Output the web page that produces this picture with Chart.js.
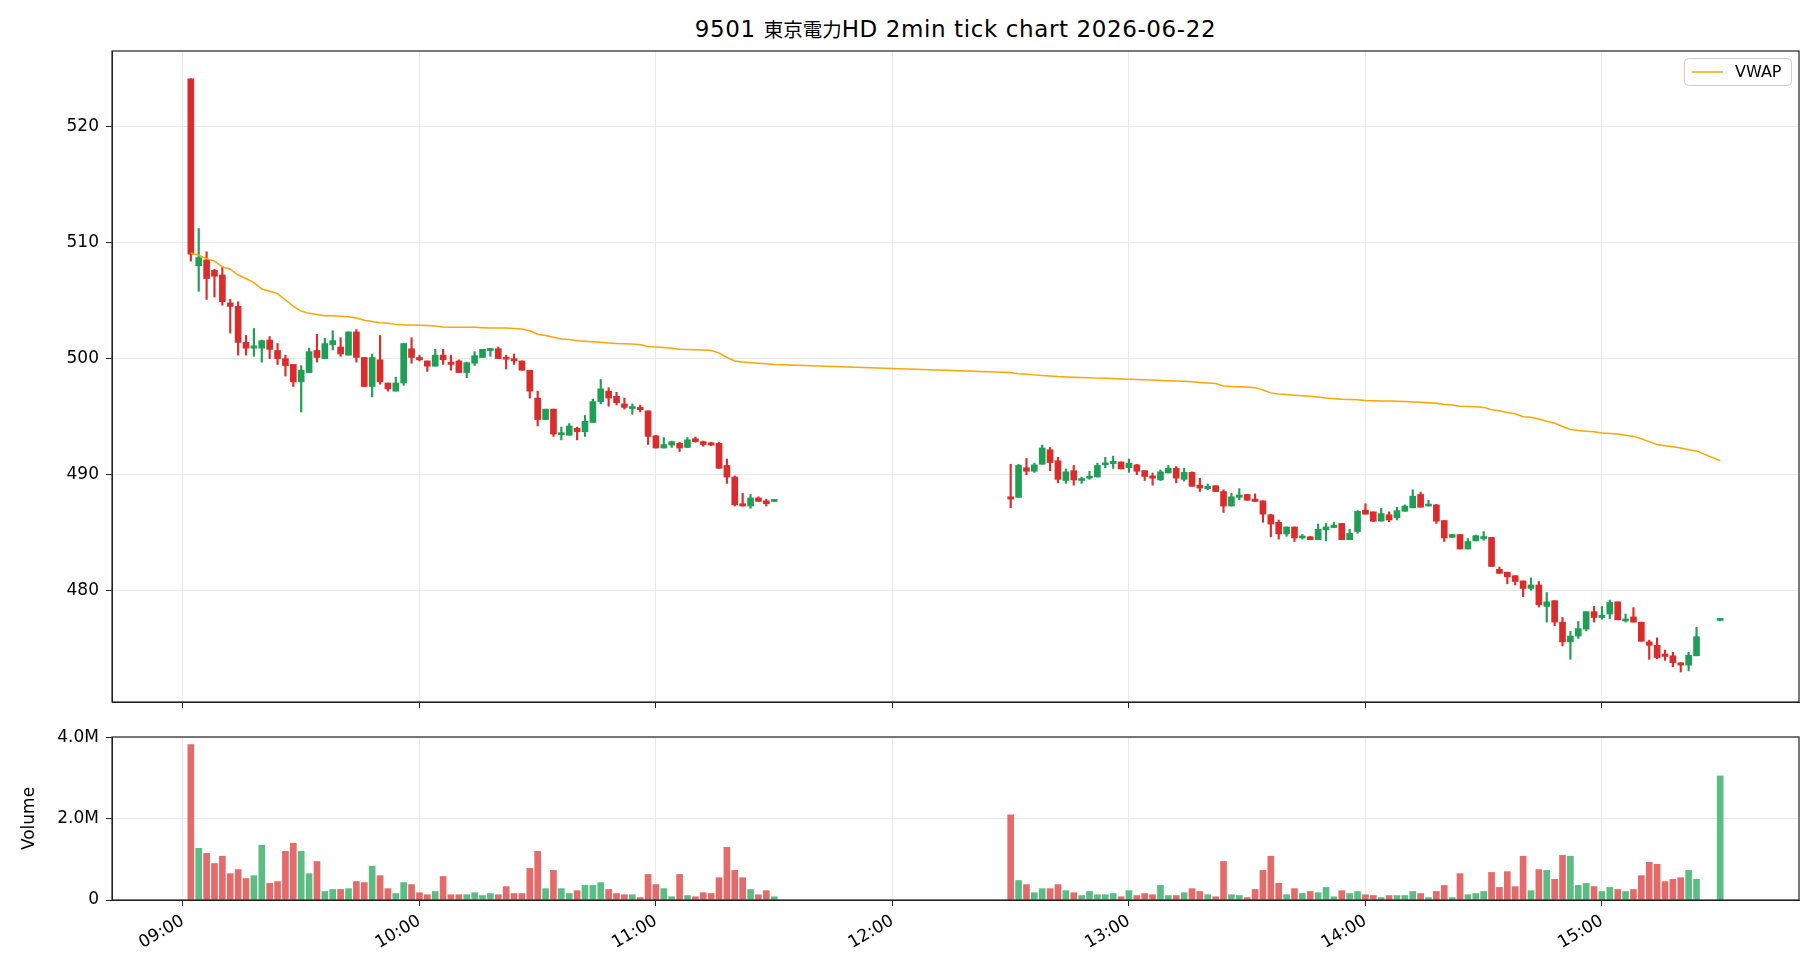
<!DOCTYPE html>
<html>
<head>
<meta charset="utf-8">
<title>9501 東京電力HD 2min tick chart</title>
<script src="https://cdn.jsdelivr.net/npm/chart.js@4.4.1/dist/chart.umd.min.js"></script>
<style>
    html, body { margin: 0; padding: 0; background: #ffffff; }
    #wrap { position: relative; width: 1820px; height: 980px; font-family: "DejaVu Sans", "Noto Sans CJK JP", sans-serif; }
    #title { position: absolute; left: 112px; width: 1687px; top: 15px; line-height: 28px; text-align: center; font-size: 23px; letter-spacing: 0.6px; color: #000; }
    #title .jp { font-size: 19.5px; letter-spacing: 0; }
    #price { position: absolute; left: 0; top: 40px; }
    #volume { position: absolute; left: 0; top: 725px; }
</style>
</head>
<body>
<div id="wrap">
    <div id="title">9501 <span class="jp">東京電力</span>HD 2min tick chart 2026-06-22</div>
    <canvas id="price" width="1820" height="672"></canvas>
    <canvas id="volume" width="1820" height="255"></canvas>
</div>
<script>
// 2-minute bars
const times = [
    '09:02','09:04','09:06','09:08','09:10','09:12','09:14','09:16','09:18','09:20',
    '09:22','09:24','09:26','09:28','09:30','09:32','09:34','09:36','09:38','09:40',
    '09:42','09:44','09:46','09:48','09:50','09:52','09:54','09:56','09:58','10:00',
    '10:02','10:04','10:06','10:08','10:10','10:12','10:14','10:16','10:18','10:20',
    '10:22','10:24','10:26','10:28','10:30','10:32','10:34','10:36','10:38','10:40',
    '10:42','10:44','10:46','10:48','10:50','10:52','10:54','10:56','10:58','11:00',
    '11:02','11:04','11:06','11:08','11:10','11:12','11:14','11:16','11:18','11:20',
    '11:22','11:24','11:26','11:28','11:30',
    '12:30','12:32','12:34','12:36','12:38','12:40','12:42','12:44','12:46','12:48',
    '12:50','12:52','12:54','12:56','12:58','13:00','13:02','13:04','13:06','13:08',
    '13:10','13:12','13:14','13:16','13:18','13:20','13:22','13:24','13:26','13:28',
    '13:30','13:32','13:34','13:36','13:38','13:40','13:42','13:44','13:46','13:48',
    '13:50','13:52','13:54','13:56','13:58','14:00','14:02','14:04','14:06','14:08',
    '14:10','14:12','14:14','14:16','14:18','14:20','14:22','14:24','14:26','14:28',
    '14:30','14:32','14:34','14:36','14:38','14:40','14:42','14:44','14:46','14:48',
    '14:50','14:52','14:54','14:56','14:58','15:00','15:02','15:04','15:06','15:08',
    '15:10','15:12','15:14','15:16','15:18','15:20','15:22','15:24',
    '15:30',
];

const opens = [
    524.1, 508.0, 508.5, 507.6, 507.2, 504.8, 504.5, 501.4, 500.9, 500.9,
    501.6, 500.7, 500.0, 499.5, 498.0, 498.8, 500.7, 500.0, 501.2, 501.0,
    500.3, 502.3, 500.1, 497.6, 499.9, 497.9, 497.2, 497.9, 500.85, 500.1,
    499.8, 499.35, 500.3, 499.7, 499.8, 498.8, 499.6, 500.1, 500.7, 500.85,
    500.1, 500.0, 499.8, 499.0, 496.6, 494.75, 495.65, 493.45, 493.4, 494.0,
    493.7, 494.5, 496.3, 497.2, 496.75, 496.1, 495.7, 495.8, 495.5, 493.35,
    492.3, 492.55, 492.7, 492.35, 493.1, 492.85, 492.75, 492.7, 490.8, 489.8,
    487.5, 487.3, 488.0, 487.75, 487.7,
    488.1, 488.05, 490.6, 490.3, 490.9, 492.15, 491.2, 489.5, 490.35, 489.5,
    489.7, 489.8, 490.85, 490.95, 491.1, 490.6, 490.85, 490.35, 489.9, 489.55,
    490.15, 490.55, 489.6, 490.2, 489.1, 488.8, 489.05, 488.55, 487.3, 488.05,
    488.3, 487.9, 487.75, 486.55, 485.9, 484.9, 485.5, 484.55, 484.65, 484.4,
    485.25, 485.45, 485.8, 484.4, 485.1, 486.95, 486.8, 486.0, 486.55, 486.3,
    486.85, 487.15, 488.3, 487.3, 487.4, 486.05, 484.6, 484.85, 483.6, 484.3,
    484.5, 484.6, 481.85, 481.6, 481.3, 480.85, 480.2, 480.5, 478.65, 479.15,
    477.3, 475.6, 476.1, 476.7, 478.2, 477.7, 478.0, 479.05, 477.4, 477.75,
    477.3, 475.6, 475.3, 474.55, 474.4, 473.8, 473.6, 474.4,
    477.45,
];

const highs = [
    524.1, 511.2, 509.2, 507.7, 507.9, 505.1, 504.9, 502.0, 502.6, 501.6,
    501.9, 501.3, 500.3, 499.5, 499.4, 500.9, 502.1, 501.75, 502.4, 501.8,
    502.3, 502.5, 500.1, 500.4, 502.0, 497.9, 498.4, 501.3, 501.8, 500.3,
    499.8, 500.8, 500.8, 500.3, 499.9, 499.7, 500.6, 500.8, 500.9, 501.0,
    500.3, 500.4, 499.8, 499.0, 497.2, 495.65, 495.65, 494.1, 494.4, 494.1,
    495.1, 496.5, 498.2, 497.5, 497.1, 496.6, 496.1, 496.0, 495.5, 493.4,
    493.2, 492.9, 492.8, 493.2, 493.25, 492.9, 492.8, 492.8, 491.35, 489.9,
    488.4, 488.3, 488.1, 487.9, 487.75,
    490.9, 490.9, 491.4, 491.0, 492.55, 492.35, 491.5, 490.5, 490.8, 489.8,
    490.3, 491.0, 491.5, 491.6, 491.1, 491.35, 490.9, 490.35, 490.15, 490.4,
    490.8, 490.7, 490.55, 490.25, 489.7, 489.2, 489.05, 488.7, 488.4, 488.8,
    488.3, 488.35, 487.75, 486.6, 486.1, 485.5, 485.5, 484.85, 484.7, 485.75,
    485.8, 485.9, 485.8, 485.3, 486.9, 487.5, 486.8, 487.1, 486.8, 487.2,
    487.4, 488.7, 488.5, 487.8, 487.45, 486.05, 484.85, 484.85, 484.5, 484.8,
    485.1, 484.6, 482.05, 481.6, 481.3, 480.85, 481.1, 480.8, 479.85, 479.15,
    477.7, 476.5, 477.35, 478.2, 478.65, 478.65, 479.2, 479.05, 478.0, 478.55,
    477.3, 475.75, 475.95, 474.9, 474.7, 473.8, 474.7, 476.85,
    477.5,
];

const lows = [
    508.4, 505.8, 505.1, 505.3, 504.6, 502.2, 500.3, 500.3, 500.2, 499.7,
    500.0, 499.5, 498.5, 497.6, 495.4, 498.8, 499.7, 500.0, 500.75, 500.2,
    500.3, 499.7, 497.6, 496.7, 497.8, 497.2, 497.2, 497.7, 499.6, 499.8,
    498.9, 499.35, 499.5, 499.0, 498.8, 498.35, 499.4, 500.1, 500.2, 500.0,
    499.1, 499.5, 499.0, 496.6, 494.2, 494.75, 493.3, 493.0, 493.4, 493.0,
    493.3, 494.5, 496.1, 495.9, 496.0, 495.65, 495.2, 495.4, 492.6, 492.3,
    492.3, 492.35, 492.0, 492.35, 492.8, 492.45, 492.5, 490.55, 489.25, 487.3,
    487.3, 487.1, 487.7, 487.3, 487.7,
    487.15, 488.05, 490.0, 490.2, 490.9, 490.35, 489.3, 489.25, 489.1, 489.25,
    489.6, 489.8, 490.6, 490.55, 490.5, 490.2, 490.0, 489.5, 489.1, 489.5,
    490.15, 489.3, 489.45, 489.0, 488.55, 488.7, 488.55, 486.75, 487.3, 487.85,
    487.8, 487.7, 485.9, 484.65, 484.45, 484.7, 484.25, 484.45, 484.4, 484.4,
    484.3, 485.45, 484.4, 484.4, 484.95, 486.6, 485.95, 486.0, 485.95, 486.1,
    486.85, 487.15, 487.2, 487.3, 485.8, 484.25, 484.6, 483.6, 483.6, 484.3,
    484.35, 482.1, 481.5, 480.6, 480.5, 479.5, 480.05, 478.6, 477.3, 477.0,
    475.25, 474.1, 475.9, 476.55, 477.3, 477.55, 477.6, 477.5, 477.3, 477.3,
    475.65, 474.1, 474.15, 474.0, 473.45, 473.0, 473.1, 474.4,
    477.45,
];

const closes = [
    509.0, 508.7, 506.9, 507.1, 504.9, 504.5, 501.4, 500.9, 501.1, 501.55,
    500.8, 500.0, 499.4, 498.0, 499.0, 500.6, 500.1, 501.3, 501.55, 500.4,
    502.3, 500.1, 497.6, 500.1, 498.0, 497.4, 497.9, 501.3, 500.1, 499.9,
    499.35, 500.3, 499.9, 499.5, 498.8, 499.65, 500.25, 500.8, 500.85, 500.0,
    499.95, 499.8, 499.0, 497.2, 494.75, 495.65, 493.5, 493.55, 494.2, 493.7,
    494.6, 496.3, 497.4, 496.6, 496.2, 495.8, 495.8, 495.6, 493.3, 492.3,
    492.6, 492.85, 492.3, 493.0, 492.85, 492.6, 492.55, 490.55, 489.8, 487.4,
    487.3, 488.0, 487.7, 487.5, 487.75,
    487.9, 490.8, 490.3, 490.85, 492.3, 491.05, 489.6, 490.25, 489.55, 489.6,
    489.85, 490.8, 491.0, 491.15, 490.5, 491.0, 490.3, 489.85, 489.7, 490.25,
    490.55, 489.7, 490.2, 489.0, 488.85, 489.0, 488.55, 487.3, 488.1, 488.25,
    487.8, 487.7, 486.6, 485.75, 484.9, 485.5, 484.55, 484.7, 484.4, 485.3,
    485.5, 485.65, 484.4, 484.95, 486.85, 486.6, 486.0, 486.65, 486.1, 486.9,
    487.3, 488.15, 487.2, 487.45, 486.0, 484.55, 484.85, 483.6, 484.25, 484.75,
    484.65, 482.1, 481.5, 481.2, 480.8, 480.2, 480.5, 478.8, 479.05, 477.3,
    475.6, 476.1, 476.75, 478.2, 477.7, 477.9, 479.0, 477.5, 477.55, 477.3,
    475.65, 475.3, 474.25, 474.35, 473.8, 473.6, 474.45, 476.05,
    477.5,
];

// volume in millions of shares
const volumeMillions = [
    3.83, 1.275, 1.15, 0.90, 1.08, 0.65, 0.75, 0.53, 0.60, 1.35,
    0.41, 0.455, 1.20, 1.40, 1.20, 0.65, 0.95, 0.21, 0.26, 0.26,
    0.28, 0.455, 0.43, 0.83, 0.60, 0.28, 0.16, 0.43, 0.38, 0.18,
    0.13, 0.21, 0.58, 0.13, 0.13, 0.13, 0.18, 0.11, 0.16, 0.13,
    0.33, 0.16, 0.16, 0.78, 1.20, 0.28, 0.73, 0.28, 0.16, 0.23,
    0.36, 0.36, 0.43, 0.26, 0.16, 0.13, 0.13, 0.06, 0.63, 0.38,
    0.28, 0.08, 0.63, 0.11, 0.08, 0.18, 0.16, 0.55, 1.30, 0.73,
    0.55, 0.26, 0.13, 0.23, 0.08,
    2.10, 0.48, 0.38, 0.18, 0.28, 0.28, 0.38, 0.23, 0.18, 0.11,
    0.21, 0.13, 0.13, 0.16, 0.08, 0.23, 0.11, 0.16, 0.13, 0.36,
    0.11, 0.11, 0.18, 0.28, 0.21, 0.13, 0.08, 0.95, 0.13, 0.11,
    0.06, 0.26, 0.73, 1.08, 0.41, 0.13, 0.28, 0.16, 0.21, 0.18,
    0.31, 0.08, 0.23, 0.16, 0.21, 0.13, 0.11, 0.06, 0.11, 0.11,
    0.11, 0.21, 0.16, 0.06, 0.21, 0.36, 0.06, 0.65, 0.13, 0.16,
    0.21, 0.68, 0.31, 0.70, 0.33, 1.08, 0.23, 0.75, 0.73, 0.51,
    1.10, 1.08, 0.36, 0.41, 0.33, 0.21, 0.31, 0.26, 0.21, 0.26,
    0.60, 0.93, 0.88, 0.455, 0.51, 0.55, 0.73, 0.51,
    3.06,
];

const vwap = [
    509.1, 508.9, 508.6, 508.4, 507.9, 507.7, 507.2, 506.9, 506.55, 506.0,
    505.8, 505.6, 505.05, 504.5, 504.1, 503.9, 503.8, 503.7, 503.7, 503.65,
    503.6, 503.5, 503.3, 503.2, 503.1, 503.05, 502.95, 502.9, 502.9, 502.87,
    502.85, 502.8, 502.73, 502.7, 502.7, 502.7, 502.7, 502.67, 502.64, 502.64,
    502.64, 502.6, 502.56, 502.4, 502.1, 502.0, 501.85, 501.7, 501.65, 501.55,
    501.5, 501.45, 501.4, 501.35, 501.3, 501.28, 501.25, 501.2, 501.05, 501.0,
    500.95, 500.9, 500.8, 500.78, 500.76, 500.74, 500.7, 500.5, 500.1, 499.8,
    499.7, 499.65, 499.6, 499.55, 499.5,
    498.8, 498.7, 498.65, 498.6, 498.55, 498.5, 498.45, 498.42, 498.4, 498.38,
    498.35, 498.32, 498.3, 498.28, 498.25, 498.22, 498.2, 498.18, 498.15, 498.12,
    498.1, 498.08, 498.05, 498.0, 497.95, 497.9, 497.85, 497.65, 497.6, 497.58,
    497.55, 497.5, 497.3, 497.05, 496.95, 496.9, 496.85, 496.8, 496.75, 496.7,
    496.6, 496.55, 496.5, 496.47, 496.45, 496.4, 496.38, 496.36, 496.34, 496.32,
    496.3, 496.27, 496.24, 496.2, 496.15, 496.05, 496.0, 495.9, 495.88, 495.85,
    495.8, 495.6, 495.5, 495.35, 495.25, 495.0, 494.95, 494.8, 494.6, 494.45,
    494.15, 493.9, 493.8, 493.75, 493.7, 493.6, 493.55, 493.5, 493.4, 493.3,
    493.1, 492.85, 492.6, 492.5, 492.4, 492.3, 492.15, 492.05,
    491.2,
];

const hourLabels = ['09:00', '10:00', '11:00', '12:00', '13:00', '14:00', '15:00'];
const priceTicks = [480, 490, 500, 510, 520];
const volumeTicks = [0, 2, 4];

// Colours
const UP = '#1f9e55';
const DOWN = '#dc2b2b';
const UP_VOL = '#5bbd83';
const DOWN_VOL = '#e56a6a';
const GRID = '#e9e9e9';
const AXIS = '#222222';
const FONT = '"DejaVu Sans", "Noto Sans CJK JP", sans-serif';

Chart.defaults.font.family = FONT;
Chart.defaults.font.size = 17;
Chart.defaults.color = '#000000';

// minutes since 09:00
function toMinutes(t) {
    const [h, m] = t.split(':').map(Number);
    return h * 60 + m - 540;
}

const xs = times.map(toMinutes);
const rising = closes.map((c, i) => c >= opens[i]);
const hourValues = hourLabels.map(toMinutes);
const X_MIN = -18;
const X_MAX = 410;

// Keep the plot box exactly where the layout padding puts it
function noScalePadding(s) {
    s.paddingTop = 0;
    s.paddingBottom = 0;
    s.paddingLeft = 0;
    s.paddingRight = 0;
}

// Draws the top and right spines like a boxed axes
const frame = {
    id: 'frame',
    afterDraw(chart) {
        const { ctx, chartArea: a } = chart;
        ctx.save();
        ctx.strokeStyle = AXIS;
        ctx.lineWidth = 1.2;
        ctx.strokeRect(a.left, a.top, a.right - a.left, a.bottom - a.top);
        ctx.restore();
    },
};

// Small boxed legend in the upper right corner
const vwapLegend = {
    id: 'vwapLegend',
    afterDraw(chart) {
        const { ctx, chartArea: a } = chart;
        const w = 107, h = 27;
        const x = a.right - 8 - w;
        const y = a.top + 7;
        ctx.save();
        ctx.fillStyle = 'rgba(255,255,255,0.85)';
        ctx.strokeStyle = '#cccccc';
        ctx.lineWidth = 1;
        ctx.beginPath();
        ctx.roundRect(x + 0.5, y + 0.5, w, h, 4);
        ctx.fill();
        ctx.stroke();
        ctx.strokeStyle = '#ffa500';
        ctx.lineWidth = 1.5;
        ctx.beginPath();
        ctx.moveTo(x + 8, y + h / 2 + 0.5);
        ctx.lineTo(x + 39, y + h / 2 + 0.5);
        ctx.stroke();
        ctx.fillStyle = '#000';
        ctx.font = '16px ' + FONT;
        ctx.textBaseline = 'middle';
        ctx.fillText('VWAP', x + 51, y + h / 2 + 1);
        ctx.restore();
    },
};

function hourAxis(showLabels, height) {
    return {
        type: 'linear',
        min: X_MIN,
        max: X_MAX,
        offset: false,
        afterBuildTicks: s => { s.ticks = hourValues.map(v => ({ value: v })); },
        grid: { offset: false, color: GRID, tickColor: AXIS, tickLength: 6 },
        border: { color: AXIS, width: 1 },
        ticks: {
            display: showLabels,
            minRotation: 30,
            maxRotation: 30,
            padding: 5,
            callback: (v, i) => hourLabels[i],
        },
        afterFit: s => { s.height = height; noScalePadding(s); },
    };
}

new Chart(document.getElementById('price'), {
    type: 'bar',
    data: {
        datasets: [
            {
                type: 'line',
                label: 'VWAP',
                data: xs.map((x, i) => ({ x, y: vwap[i] })),
                borderColor: '#ffa500',
                borderWidth: 1.5,
                pointRadius: 0,
                tension: 0,
                order: 0,
            },
            {
                label: 'body',
                data: xs.map((x, i) => ({ x, y: [opens[i], closes[i]] })),
                backgroundColor: rising.map(r => (r ? UP : DOWN)),
                barThickness: 6,
                minBarLength: 2,
                grouped: false,
                order: 1,
            },
            {
                label: 'wick',
                data: xs.map((x, i) => ({ x, y: [lows[i], highs[i]] })),
                backgroundColor: rising.map(r => (r ? UP : DOWN)),
                barThickness: 1.5,
                minBarLength: 1,
                grouped: false,
                order: 2,
            },
        ],
    },
    options: {
        responsive: false,
        devicePixelRatio: 1,
        animation: false,
        layout: { padding: { top: 11, right: 21, left: 0, bottom: 0 } },
        plugins: { legend: { display: false }, tooltip: { enabled: false } },
        scales: {
            x: hourAxis(false, 10),
            y: {
                min: 470.42,
                max: 526.5,
                afterBuildTicks: s => { s.ticks = priceTicks.map(v => ({ value: v })); },
                grid: { color: GRID, tickColor: AXIS, tickLength: 6 },
                border: { color: AXIS, width: 1 },
                ticks: { padding: 7, callback: v => String(v) },
                afterFit: s => { s.width = 112; noScalePadding(s); },
            },
        },
    },
    plugins: [frame, vwapLegend],
});

new Chart(document.getElementById('volume'), {
    type: 'bar',
    data: {
        datasets: [{
            label: 'Volume',
            data: xs.map((x, i) => ({ x, y: volumeMillions[i] })),
            backgroundColor: rising.map(r => (r ? UP_VOL : DOWN_VOL)),
            barThickness: 6,
            grouped: false,
        }],
    },
    options: {
        responsive: false,
        devicePixelRatio: 1,
        animation: false,
        layout: { padding: { top: 12, right: 21, left: 0, bottom: 0 } },
        plugins: { legend: { display: false }, tooltip: { enabled: false } },
        scales: {
            x: hourAxis(true, 80),
            y: {
                min: 0,
                max: 4.02,
                afterBuildTicks: s => { s.ticks = volumeTicks.map(v => ({ value: v })); },
                grid: { color: GRID, tickColor: AXIS, tickLength: 6 },
                border: { color: AXIS, width: 1 },
                ticks: { padding: 7, callback: v => (v === 0 ? '0' : v.toFixed(1) + 'M') },
                title: { display: true, text: 'Volume', padding: { top: 19, bottom: 0 } },
                afterFit: s => { s.width = 112; noScalePadding(s); },
            },
        },
    },
    plugins: [frame],
});
</script>
</body>
</html>
